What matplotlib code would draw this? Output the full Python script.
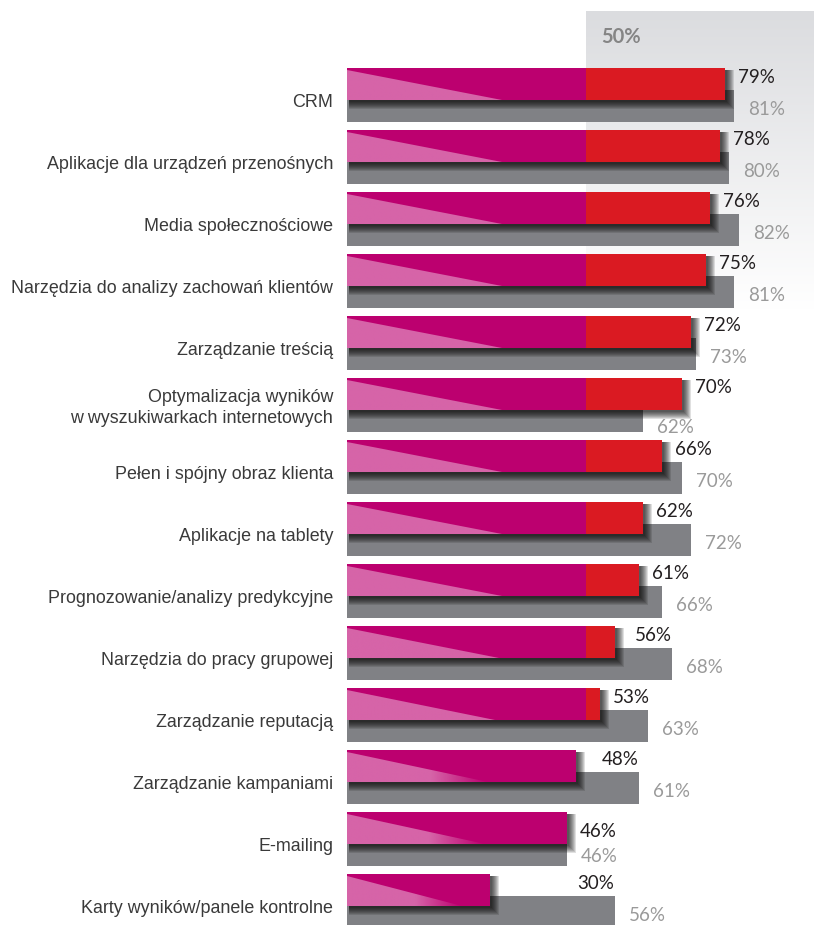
import numpy as np
import matplotlib
matplotlib.use("Agg")
import matplotlib.pyplot as plt
from matplotlib.patches import Rectangle, Polygon
from matplotlib.colors import to_rgb

# survey data (%), top to bottom
categories = [
    "CRM",
    "Aplikacje dla urządzeń przenośnych",
    "Media społecznościowe",
    "Narzędzia do analizy zachowań klientów",
    "Zarządzanie treścią",
    "Optymalizacja wyników\nw wyszukiwarkach internetowych",
    "Pełen i spójny obraz klienta",
    "Aplikacje na tablety",
    "Prognozowanie/analizy predykcyjne",
    "Narzędzia do pracy grupowej",
    "Zarządzanie reputacją",
    "Zarządzanie kampaniami",
    "E-mailing",
    "Karty wyników/panele kontrolne",
]
current = [79, 78, 76, 75, 72, 70, 66, 62, 61, 56, 53, 48, 46, 30]
previous = [81, 80, 82, 81, 73, 62, 70, 72, 66, 68, 63, 61, 46, 56]
threshold = 50

MAGENTA = "#bc006f"
RED = "#da1a22"
PINK = "#d664a8"
GREY_BAR = "#808185"
TXT_DARK = "#231f20"
TXT_GREY = "#9a9a9a"
TXT_CAT = "#3a3a3a"

W, H = 814, 925
PX_PER_PCT = 4.78          # horizontal scale
ROW = 62.0                 # row pitch in px
X0, Y0 = 347, 68           # origin of the first bar in px

fig = plt.figure(figsize=(W / 100, H / 100), dpi=100)
ax = fig.add_axes([0, 0, 1, 1])
ax.set_xlim(-X0 / PX_PER_PCT, (W - X0) / PX_PER_PCT)
ax.set_ylim((H - Y0) / ROW, -Y0 / ROW)
ax.axis("off")

px = 1 / PX_PER_PCT   # one pixel in x units
py = 1 / ROW          # one pixel in y units

# grey band behind the values above 50%
c_top = np.array(to_rgb("#dbdcdf"))
grad = np.linspace(0, 1, 200)[:, None]
band = c_top[None, None, :] * (1 - grad[..., None]) + grad[..., None]
band = np.repeat(band, 2, axis=1)
ax.imshow(band, extent=[threshold, (W - X0) / PX_PER_PCT, (310 - Y0) * py, (11 - Y0) * py],
          aspect="auto", zorder=0, interpolation="bilinear")
ax.text(threshold + 15 * px, (43 - Y0) * py, "50%", fontsize=14.5, fontweight="bold",
        color="#858585", family="Lato", va="baseline", ha="left")

main_h = 32 * py
grey_off = 22 * py
grey_h = 32 * py

pink_rgb = to_rgb(PINK)

for i, (cat, v, g) in enumerate(zip(categories, current, previous)):
    # previous-year bar
    ax.add_patch(Rectangle((0, i + grey_off), g, grey_h, color=GREY_BAR, lw=0, zorder=1))

    # soft shadow of the current bar, growing to the right and down
    for k in range(8):
        ax.add_patch(Rectangle((2 * px, i + 2 * py), v + k * px,
                               main_h + k * py, color="black", lw=0, alpha=0.12, zorder=2))

    # current bar: magenta up to 50%, red beyond
    ax.add_patch(Rectangle((0, i), min(v, threshold), main_h, color=MAGENTA, lw=0, zorder=3))
    if v > threshold:
        ax.add_patch(Rectangle((threshold, i), v - threshold, main_h, color=RED, lw=0, zorder=3))

    # light highlight wedge on the left end
    tip = min(32.4, 15 + 0.3 * v)
    tri = Polygon([(0, i + 2 * py), (0, i + main_h), (tip, i + main_h)], closed=True,
                  facecolor="none", edgecolor="none")
    ax.add_patch(tri)
    fade = 0.0 if v >= threshold else 0.4
    xs = np.linspace(0, 1, 300)
    alpha = np.ones_like(xs)
    if fade > 0:
        alpha = np.clip((1 - xs) / fade, 0, 1)
    img = np.zeros((2, xs.size, 4))
    img[..., :3] = pink_rgb
    img[..., 3] = alpha[None, :]
    im = ax.imshow(img, extent=[0, tip, i + main_h, i], aspect="auto", zorder=4,
                   interpolation="bilinear")
    im.set_clip_path(tri)

    # category label
    if "\n" in cat:
        l1, l2 = cat.split("\n")
        ax.text(-14 * px, i + 24 * py, l1, ha="right", va="baseline", fontsize=12.9,
                color=TXT_CAT, family="Liberation Sans")
        ax.text(-14 * px, i + 45 * py, l2, ha="right", va="baseline", fontsize=12.9,
                color=TXT_CAT, family="Liberation Sans")
    else:
        ax.text(-14 * px, i + 39 * py, cat, ha="right", va="baseline", fontsize=12.9,
                color=TXT_CAT, family="Liberation Sans")

    # value labels; equal values would stack, so spread them vertically
    xl = max(v + 13 * px, g - 37 * px)
    xg = g + 14 * px
    yl, yg = 15, 47
    if g == v:
        yl, yg = 25, 50
    elif g < v:
        yg = 55
    ax.text(xl, i + yl * py, f"{v}%", ha="left", va="baseline", fontsize=13.5,
            color=TXT_DARK, family="Lato", zorder=6)
    ax.text(xg, i + yg * py, f"{g}%", ha="left", va="baseline", fontsize=13.5,
            color=TXT_GREY, family="Lato", zorder=6)

fig.savefig("out.png", dpi=100)
